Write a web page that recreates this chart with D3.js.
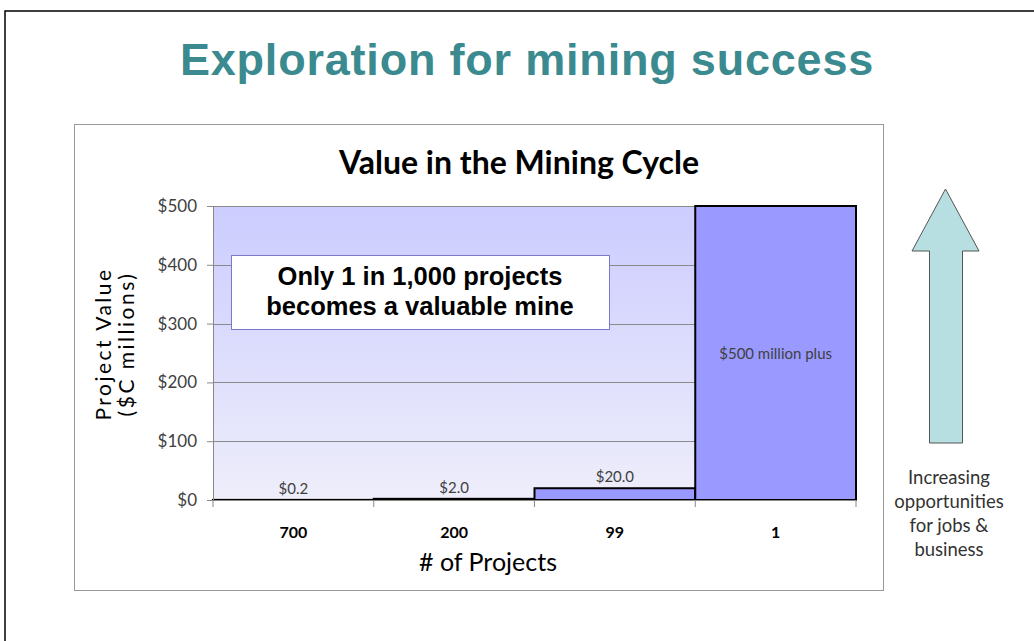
<!DOCTYPE html>
<html><head><meta charset="utf-8">
<script src="https://cdn.jsdelivr.net/npm/d3@7"></script>
<style>html,body{margin:0;padding:0;background:#fff;}svg{display:block;}</style>
</head><body>
<svg id="c" width="1034" height="641"></svg>
<script>
const categories = ["700", "200", "99", "1"];
const values = [0.2, 2.0, 20.0, 500];
const valueLabels = ["$0.2", "$2.0", "$20.0", "$500 million plus"];
const yTicks = [0, 100, 200, 300, 400, 500];
const noteLines = ["Only 1 in 1,000 projects", "becomes a valuable mine"];
const sideLines = ["Increasing", "opportunities", "for jobs &", "business"];

const svg = d3.select("#c");
const cal = "Lato, 'Open Sans', sans-serif";

// slide frame
svg.append("path").attr("d", "M5,641V11H1034").attr("fill", "none").attr("stroke", "#000").attr("stroke-width", 1.5);

svg.append("text").attr("x", 527).attr("y", 75).attr("text-anchor", "middle")
  .attr("font-family", "Liberation Sans, Arial, sans-serif").attr("font-weight", "bold")
  .attr("font-size", 45).attr("letter-spacing", 0.8).attr("fill", "#3A8A8F").text("Exploration for mining success");

// chart box
svg.append("rect").attr("x", 74.5).attr("y", 124.5).attr("width", 809).attr("height", 466)
  .attr("fill", "#fff").attr("stroke", "#999").attr("stroke-width", 1);

svg.append("text").attr("x", 519).attr("y", 174).attr("text-anchor", "middle")
  .attr("font-family", cal).attr("font-weight", "bold").attr("font-size", 32).attr("fill", "#000")
  .text("Value in the Mining Cycle");

const L = 213, R = 856, T = 206, B = 500;
const x = d3.scaleBand().domain(categories).range([L, R]).padding(0);
const y = d3.scaleLinear().domain([0, 500]).range([B, T]);

const defs = svg.append("defs");
const g = defs.append("linearGradient").attr("id", "bg").attr("x1", 0).attr("y1", 0).attr("x2", 0).attr("y2", 1);
g.append("stop").attr("offset", "0%").attr("stop-color", "#CCCCFF");
g.append("stop").attr("offset", "100%").attr("stop-color", "#EEEEFB");
svg.append("rect").attr("x", L).attr("y", T).attr("width", R - L).attr("height", B - T).attr("fill", "url(#bg)");

// gridlines
svg.append("g").selectAll("line").data(yTicks.filter(d => d > 0)).join("line")
  .attr("x1", L).attr("x2", R).attr("y1", d => Math.round(y(d)) + 0.5).attr("y2", d => Math.round(y(d)) + 0.5)
  .attr("stroke", "#8a8a8a").attr("stroke-width", 1);

// bars
svg.append("g").selectAll("rect").data(values).join("rect")
  .attr("x", (d, i) => x(categories[i])).attr("y", d => y(d))
  .attr("width", x.bandwidth()).attr("height", d => B - y(d))
  .attr("fill", "#9999FF").attr("stroke", "#000").attr("stroke-width", 2);

// axes
const yAxis = svg.append("g").attr("transform", `translate(${L},0)`)
  .call(d3.axisLeft(y).tickValues(yTicks).tickSize(6).tickPadding(10).tickFormat(d => "$" + d));
yAxis.select(".domain").attr("stroke", "#888");
yAxis.selectAll(".tick line").attr("stroke", "#888");
yAxis.selectAll("text").attr("font-family", cal).attr("font-size", 17).attr("fill", "#404040");

const xAxis = svg.append("g").attr("transform", `translate(0,${B})`)
  .call(d3.axisBottom(x).tickSize(0).tickPadding(27));
xAxis.select(".domain").attr("stroke", "#888");
xAxis.selectAll("text").attr("font-family", cal).attr("font-weight", "bold").attr("font-size", 16).attr("fill", "#000");
// band boundary ticks
const bounds = categories.map(c => x(c)).concat([R]);
svg.append("g").selectAll("line").data(bounds).join("line")
  .attr("x1", d => d).attr("x2", d => d).attr("y1", B).attr("y2", B + 7).attr("stroke", "#888");

// value labels
svg.append("g").selectAll("text").data(values).join("text")
  .attr("x", (d, i) => x(categories[i]) + x.bandwidth() / 2)
  .attr("y", (d, i) => i === 3 ? (y(d) + B) / 2 + 6 : y(d) - 6)
  .attr("text-anchor", "middle").attr("font-family", cal).attr("font-size", 15).attr("fill", "#404040")
  .text((d, i) => valueLabels[i]);

// axis titles
svg.append("text").attr("x", 488).attr("y", 571).attr("text-anchor", "middle")
  .attr("font-family", cal).attr("font-size", 25).attr("fill", "#000").text("# of Projects");
const yt = svg.append("text").attr("transform", "translate(111,344) rotate(-90)").attr("text-anchor", "middle")
  .attr("font-family", cal).attr("font-size", 21).attr("letter-spacing", 2.5).attr("fill", "#000");
yt.append("tspan").attr("x", 0).attr("dy", 0).text("Project Value");
yt.append("tspan").attr("x", 0).attr("dy", 23).text("($C millions)");

// note box
svg.append("rect").attr("x", 231.5).attr("y", 255.5).attr("width", 378).attr("height", 74)
  .attr("fill", "#fff").attr("stroke", "#7a7acc").attr("stroke-width", 1);
svg.append("g").selectAll("text").data(noteLines).join("text")
  .attr("x", 420).attr("y", (d, i) => 285 + i * 30).attr("text-anchor", "middle")
  .attr("font-family", "Liberation Sans, Arial, sans-serif").attr("font-weight", "bold")
  .attr("font-size", 25.5).attr("fill", "#000").text(d => d);

// arrow
svg.append("path").attr("d", "M945.5,189L979,251H962.5V443H929.5V251H912Z")
  .attr("fill", "#B7DEE0").attr("stroke", "#555").attr("stroke-width", 1);
svg.append("g").selectAll("text").data(sideLines).join("text")
  .attr("x", 949).attr("y", (d, i) => 484 + i * 24).attr("text-anchor", "middle")
  .attr("font-family", cal).attr("font-size", 18.5).attr("fill", "#333").text(d => d);
</script>
</body></html>
